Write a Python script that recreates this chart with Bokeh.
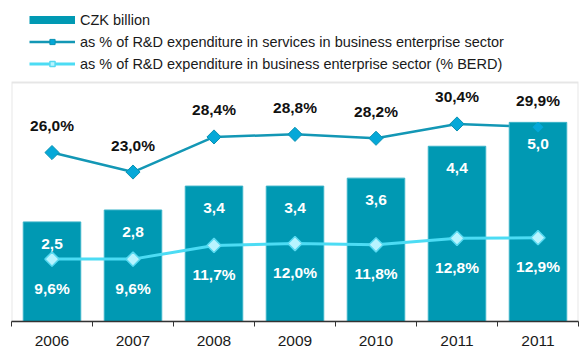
import numpy as np
from bokeh.plotting import figure
from bokeh.core.properties import value
from bokeh.models import (ColumnDataSource, Range1d, FixedTicker, LabelSet,
                          Legend, LegendItem, BoxAnnotation)
from bokeh.embed import file_html
from bokeh.resources import INLINE

# ---- data ----
years = ["2006", "2007", "2008", "2009", "2010", "2011", "2011"]
czk_billion = [2.5, 2.8, 3.4, 3.4, 3.6, 4.4, 5.0]
pct_services = [26.0, 23.0, 28.4, 28.8, 28.2, 30.4, 29.9]
pct_berd = [9.6, 9.6, 11.7, 12.0, 11.8, 12.8, 12.9]

series_names = [
    "CZK billion",
    "as % of R&D expenditure in services in business enterprise sector",
    "as % of R&D expenditure in business enterprise sector (% BERD)",
]

bar_axis_max = 6.0          # top of the framed plot area (CZK billion)


def fmt(v, pct=False):
    s = f"{v:.1f}".replace(".", ",")
    return s + "%" if pct else s


xs = list(range(len(years)))
src = ColumnDataSource(dict(
    x=xs,
    czk=czk_billion,
    serv=pct_services,
    berd=pct_berd,
    czk_lbl=[fmt(v) for v in czk_billion],
    serv_lbl=[fmt(v, True) for v in pct_services],
    berd_lbl=[fmt(v, True) for v in pct_berd],
))
n = len(years)
src_main = ColumnDataSource(dict(x=xs[:n - 1], serv=pct_services[:n - 1]))
src_last = ColumnDataSource(dict(x=xs[n - 1:], serv=pct_services[n - 1:]))

FONT = "Liberation Sans"

W, H = 579, 348
p = figure(width=W, height=H,
           x_range=Range1d(-0.5, len(years) - 0.5),
           y_range=Range1d(0, 8.06),
           output_backend="svg", toolbar_location=None,
           y_axis_location=None,
           min_border_left=11, min_border_right=1,
           min_border_top=0, min_border_bottom=0)
p.extra_y_ranges = {"pct": Range1d(0, 49.4)}

p.outline_line_color = None
p.xgrid.grid_line_color = None
p.ygrid.grid_line_color = None
p.background_fill_color = "white"
p.border_fill_color = "white"

# gray frame around the plotting area
p.add_layout(BoxAnnotation(top=bar_axis_max, fill_alpha=0,
                           line_color="#ADADAD", line_width=2, level="underlay"))

SERV_LINE = "#1397B5"
SERV_FILL = "#05A8D8"
SERV_EDGE = "#0A92B2"
BERD_LINE = "#4CDCF4"
BERD_FILL = "#B8F4FF"
BERD_EDGE = "#58D9F0"
BAR = "#0099B3"

# services line (behind bars, as in the original)
serv_line = p.line("x", "serv", source=src, y_range_name="pct",
                   line_color=SERV_LINE, line_width=2.5)

bars = p.vbar(x="x", top="czk", width=0.71, source=src,
              fill_color=BAR, line_color="#3AB3C8", line_width=1)

berd_line = p.line("x", "berd", source=src, y_range_name="pct",
                   line_color=BERD_LINE, line_width=3)
berd_mark = p.scatter("x", "berd", source=src, y_range_name="pct",
                      marker="square", angle=np.pi / 4, size=10,
                      fill_color=BERD_FILL, line_color=BERD_EDGE, line_width=1.5)

serv_mark = p.scatter("x", "serv", source=src_main, y_range_name="pct",
                      marker="square", angle=np.pi / 4, size=10,
                      fill_color=SERV_FILL, line_color=SERV_EDGE, line_width=1)
p.scatter("x", "serv", source=src_last, y_range_name="pct",
          marker="square", angle=np.pi / 4, size=7,
          fill_color=SERV_FILL, line_color=SERV_FILL, line_width=1)

# legend-only swatch for the bars (a wide flat band, as in the original legend);
# its single NaN point draws nothing in the plot
swatch_src = ColumnDataSource(dict(x=[np.nan], y=[np.nan]))
bar_swatch = p.line("x", "y", source=swatch_src, line_color=BAR,
                    line_width=8, line_cap="butt")

# labels
common = dict(source=src, text_align="center", text_baseline="middle",
              text_font=value(FONT), text_font_style="bold",
              text_font_size="15.5px")
p.add_layout(LabelSet(x="x", y="czk", text="czk_lbl", y_offset=-22,
                      text_color="white", **common))
p.add_layout(LabelSet(x="x", y="serv", text="serv_lbl", y_offset=27,
                      y_range_name="pct", text_color="#111111", **common))
p.add_layout(LabelSet(x="x", y="berd", text="berd_lbl", y_offset=-29,
                      y_range_name="pct", text_color="white", **common))

# x axis
ax = p.xaxis[0]
ax.ticker = FixedTicker(ticks=xs, minor_ticks=[i - 0.5 for i in range(len(years) + 1)])
ax.major_label_overrides = {i: y for i, y in enumerate(years)}
ax.major_tick_line_color = None
ax.major_tick_out = 0
ax.major_tick_in = 0
ax.minor_tick_line_color = "#333333"
ax.minor_tick_out = 5
ax.minor_tick_in = 0
ax.axis_line_color = "#333333"
ax.axis_line_width = 1.5
ax.major_label_standoff = 9
ax.major_label_text_font = FONT
ax.major_label_text_font_size = "15.5px"
ax.major_label_text_color = "#1a1a1a"

legend = Legend(items=[
    LegendItem(label=series_names[0], renderers=[bar_swatch]),
    LegendItem(label=series_names[1], renderers=[serv_line, serv_mark]),
    LegendItem(label=series_names[2], renderers=[berd_line, berd_mark]),
], location=(18, 247), orientation="vertical",
    glyph_width=46, glyph_height=13, label_height=21, spacing=1,
    padding=0, margin=0, label_standoff=5,
    border_line_color=None, background_fill_alpha=0,
    label_text_font=FONT, label_text_font_size="14.5px",
    label_text_color="#1a1a1a")
p.add_layout(legend, "center")

open("out.html", "w").write(file_html(p, INLINE))
